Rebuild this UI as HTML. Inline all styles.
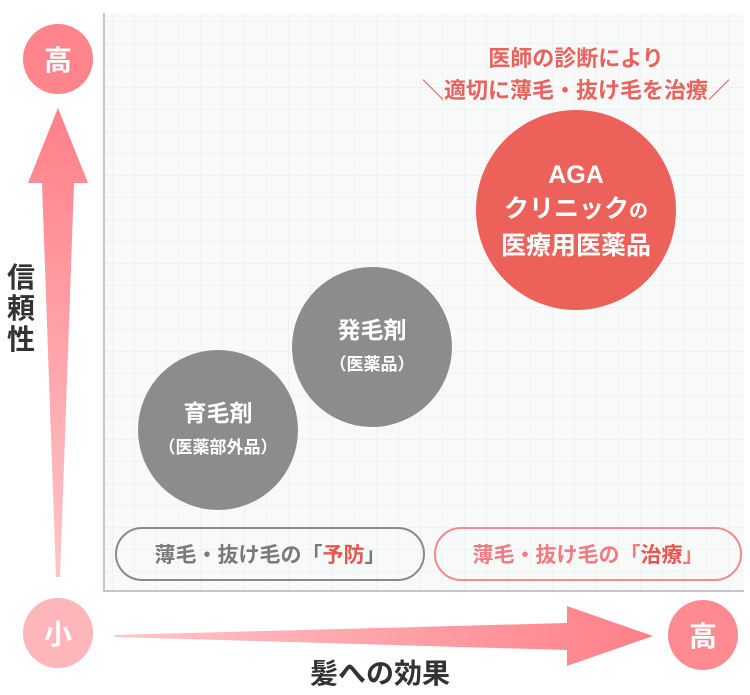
<!DOCTYPE html>
<html><head><meta charset="utf-8"><style>
body{margin:0;width:750px;height:695px;background:#fff;position:relative;overflow:hidden;font-family:"Liberation Sans","Noto Sans CJK JP",sans-serif;}
.abs{position:absolute}
.chart{left:103px;top:13px;width:641px;height:579px;background-color:#f8fafa;
background-image:linear-gradient(#edf2f2 1px,transparent 1px),linear-gradient(90deg,#edf2f2 1px,transparent 1px);background-size:22px 22px;background-position:7px 8px;
border-left:2px solid #c6c6c6;border-bottom:2px solid #c6c6c6;box-sizing:border-box}
.circ{border-radius:50%;display:flex;align-items:center;justify-content:center;color:#fff;font-weight:bold;text-align:center}
.pill{border-radius:27px;box-sizing:border-box;display:flex;align-items:center;justify-content:center;font-weight:bold;font-size:21px}
</style></head><body>
<div class="abs chart"></div>
<svg class="abs" style="left:0;top:0" width="750" height="695">
<defs>
<linearGradient id="gv" x1="0" y1="0" x2="0" y2="1"><stop offset="0" stop-color="#ff8089"/><stop offset="1" stop-color="#ffc6ca"/></linearGradient>
<linearGradient id="gh" x1="0" y1="0" x2="1" y2="0"><stop offset="0" stop-color="#ffc6ca"/><stop offset="1" stop-color="#ff7f88"/></linearGradient>
</defs>
<polygon points="58,108 88,183 74,183 60,577 56,577 42,183 28,183" fill="url(#gv)"/>
<polygon points="653,636 567,666 567,650 115,637 115,635 567,623 567,606" fill="url(#gh)"/>
</svg>
<div class="abs circ" style="left:23px;top:24px;width:70px;height:70px;background:#ff848b;font-size:28px">高</div>
<div class="abs circ" style="left:23px;top:598px;width:70px;height:70px;background:#ffb6bb;font-size:28px">小</div>
<div class="abs circ" style="left:668px;top:600px;width:70px;height:70px;background:#ff8a91;font-size:28px">高</div>
<div class="abs" style="left:6px;top:262px;width:30px;font-size:28px;font-weight:bold;color:#333;line-height:31px;text-align:center">信<br>頼<br>性</div>
<div class="abs" style="left:300px;top:652px;width:160px;text-align:center;font-size:28px;font-weight:bold;color:#333">髪への効果</div>
<div class="abs" style="left:400px;top:43px;width:352px;text-align:center;font-size:22px;font-weight:bold;color:#e9625c;line-height:32px;white-space:nowrap">医師の診断により<br>＼適切に薄毛・抜け毛を治療／</div>
<div class="abs circ" style="left:476px;top:110px;width:200px;height:200px;background:#ec625a"><div style="font-size:25px;line-height:34px">AGA<br>クリニック<span style="font-size:19px">の</span><br>医療用医薬品</div></div>
<div class="abs circ" style="left:292px;top:267px;width:160px;height:160px;background:#8c8c8c"><div style="font-size:23px;line-height:32px">発毛剤<br><span style="font-size:17px">（医薬品）</span></div></div>
<div class="abs circ" style="left:138px;top:350px;width:160px;height:160px;background:#8c8c8c"><div style="font-size:23px;line-height:32px">育毛剤<br><span style="font-size:17px;white-space:nowrap">（医薬部外品）</span></div></div>
<div class="abs pill" style="left:115px;top:527px;width:310px;height:54px;border:2px solid #8a8a8a;color:#7a7a7a">薄毛・抜け毛の「<span style="color:#e8564f">予防</span>」</div>
<div class="abs pill" style="left:434px;top:527px;width:308px;height:54px;border:2px solid #f28a8e;color:#f27a80">薄毛・抜け毛の「<span style="color:#e8564f">治療</span>」</div>
</body></html>
